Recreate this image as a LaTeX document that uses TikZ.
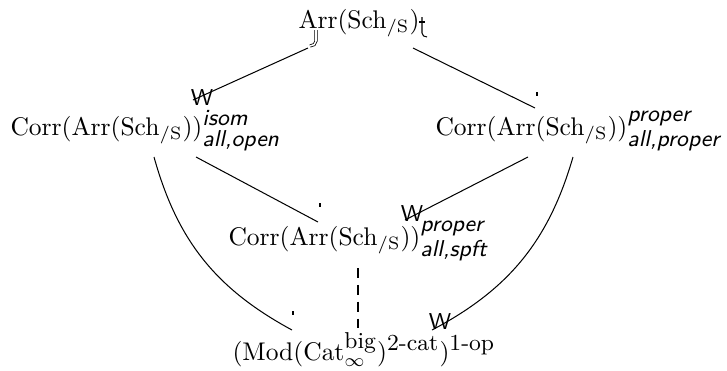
\documentclass[tikz,border=0pt]{standalone}
\usepackage{amsmath}
\usetikzlibrary{calc}
\tikzset{
	objnode/.style={
			inner sep=0pt,
			anchor=base west
		},
	mapline/.style={
			line width=0.4pt
		},
	dashmap/.style={
			mapline,
			dash pattern=on 3.9pt off 2.7pt
		},
	wtip/.style={
			inner sep=0pt,
			font=\small\sffamily
		},
	ticktip/.style={
			fill=black,
			inner sep=0pt,
			minimum width=0.75pt,
			minimum height=1.7pt
		},
	hooktip/.style={
			double,
			double distance=0.6pt,
			line width=0.3pt
		}
}
\newcommand{\arrsch}{\mathrm{Arr}(\mathrm{Sch}_{/\mathrm{S}})}
\newcommand{\scr}[1]{\mbox{\small\sffamily\itshape #1}}
\newcommand{\upscr}[1]{\mbox{\small #1}}

\begin{document}
\begin{tikzpicture}[x=0.392pt, y=-0.392pt]
\useasboundingbox (0,0) rectangle (727,370);

\node[objnode] (arr) at (298,28) {$\arrsch$};
\node[objnode] (corrO) at (10,135) {$\mathrm{Corr}(\arrsch)^{\scr{isom}}_{\scr{all,open}}$};
\node[objnode] (corrP) at (435,135) {$\mathrm{Corr}(\arrsch)^{\scr{proper}}_{\scr{all,proper}}$};
\node[objnode] (corrS) at (228,245) {$\mathrm{Corr}(\arrsch)^{\scr{proper}}_{\scr{all,spft}}$};
\node[objnode] (modcat) at (232,360) {$(\mathrm{Mod}(\mathrm{Cat}^{\upscr{big}}_{\infty})^{\upscr{2-cat}})^{\upscr{1-op}}$};

\draw[mapline] ($(arr.base west)+(10,20)$) -- ($(corrO.base west)+(183,-35)$);
\draw[mapline] ($(arr.base west)+(115,20)$) -- ($(corrP.base west)+(100,-27)$);
\draw[mapline] ($(corrO.base west)+(186,22)$) -- ($(corrS.base west)+(90,-23)$);
\draw[mapline] ($(corrP.base west)+(93,22)$) -- ($(corrS.base west)+(177,-25)$);
\draw[mapline] ($(corrO.base west)+(144,22)$) to[bend right=23] ($(modcat.base west)+(60,-30)$);
\draw[mapline] ($(corrP.base west)+(138,22)$) to[bend left=23] ($(modcat.base west)+(200,-30)$);
\draw[dashmap] ($(corrS.base west)+(130,23)$) -- ($(modcat.base west)+(126,-25)$);

% tails
\draw[hooktip] ($(arr.base west)+(18,2)$) -- ++(0,11) to[out=-90,in=0] ++(-6,5);
\draw[mapline] ($(arr.base west)+(124,-11)$) -- ++(0,16) to[out=-90,in=180] ++(5,4);
\draw[mapline] ($(arr.base west)+(121,-6)$) -- ++(6,0);

% heads
\node[wtip] (w1) at ($(corrO.base west)+(192,-37)$) {W};
\node[wtip] (w2) at ($(corrS.base west)+(184,-31)$) {W};
\node[wtip] (w3) at ($(modcat.base west)+(208,-38)$) {W};
\node[ticktip] (t1) at ($(corrP.base west)+(102,-41)$) {};
\node[ticktip] (t2) at ($(corrS.base west)+(92,-40)$) {};
\node[ticktip] (t3) at ($(modcat.base west)+(61,-47)$) {};
\end{tikzpicture}
\end{document}
